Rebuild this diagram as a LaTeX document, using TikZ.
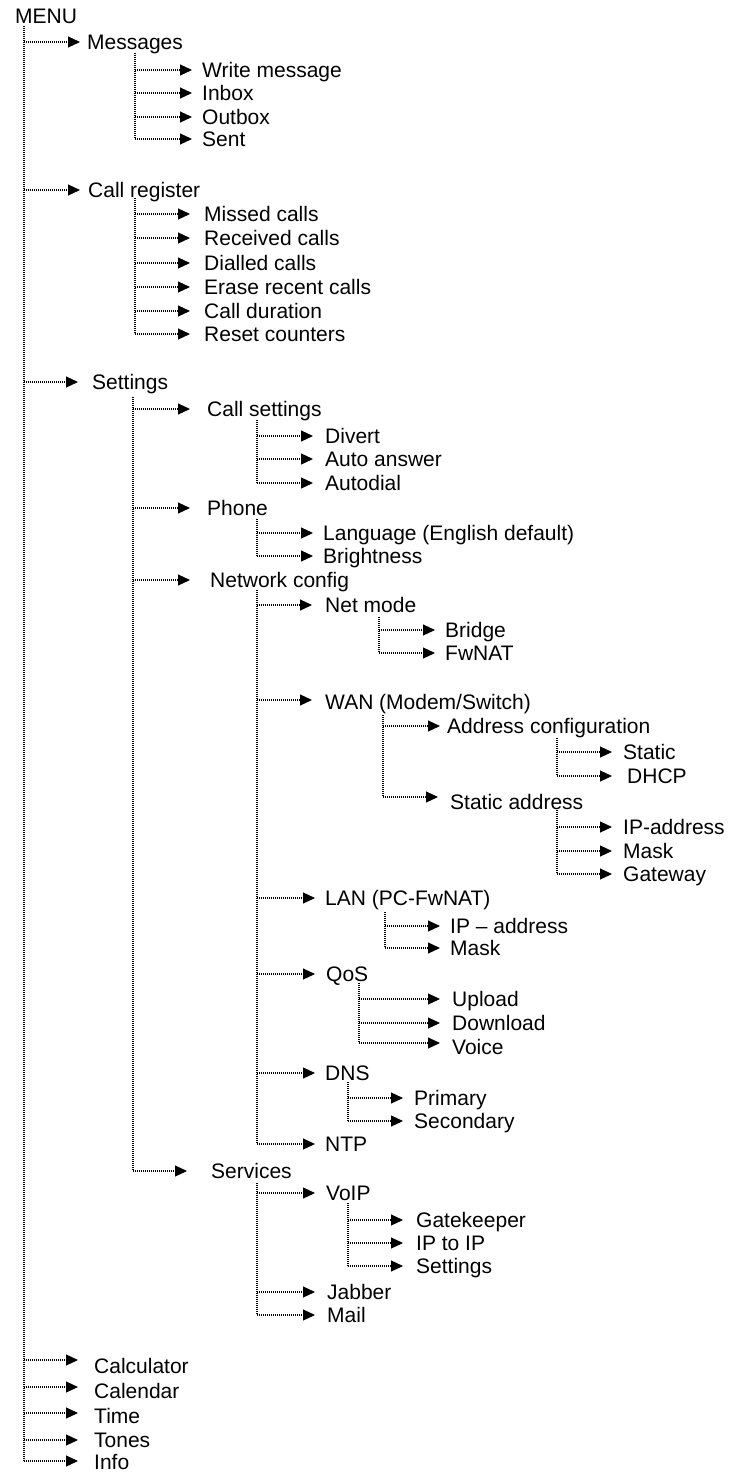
\documentclass[tikz,border=0pt]{standalone}
\usepackage{fontspec}
\setmainfont{Liberation Sans}
\usetikzlibrary{arrows.meta}

\newlength{\du}
\setlength{\du}{1pt}

\tikzset{
  entry/.style={anchor=west, inner sep=0pt, text height=15\du, text depth=0pt,
    font=\fontsize{21}{25}\selectfont},
  trunk/.style={line width=1.1\du, dash pattern=on 1\du off 1\du},
  link/.style={trunk, -{Triangle[length=12pt,width=11pt]}, shorten >=#1},
  link/.default=10\du
}

\begin{document}
\begin{tikzpicture}
\pgftransformxscale{1.000000}
\pgftransformyscale{-1.000000}
\definecolor{dialinecolor}{rgb}{0.000000, 0.000000, 0.000000}
\pgfsetstrokecolor{dialinecolor}
\useasboundingbox (0\du,0\du) rectangle (731\du,1473\du);
% menu entries
\node[entry] (menu) at (15\du,16\du){MENU};
\node[entry] (msg) at (87\du,42\du){Messages};
\node[entry] (wmsg) at (202\du,70\du){Write message};
\node[entry] (inbox) at (202\du,93\du){Inbox};
\node[entry] (outbox) at (202\du,117\du){Outbox};
\node[entry] (sent) at (202\du,139\du){Sent};
\node[entry] (creg) at (88\du,190\du){Call register};
\node[entry] (missed) at (204\du,214\du){Missed calls};
\node[entry] (recv) at (204\du,238\du){Received calls};
\node[entry] (dialled) at (204\du,263\du){Dialled calls};
\node[entry] (erase) at (204\du,287\du){Erase recent calls};
\node[entry] (cdur) at (204\du,311\du){Call duration};
\node[entry] (reset) at (204\du,334\du){Reset counters};
\node[entry] (sett) at (92\du,382\du){Settings};
\node[entry] (csett) at (207\du,409\du){Call settings};
\node[entry] (divert) at (325\du,436\du){Divert};
\node[entry] (autoans) at (325\du,459\du){Auto answer};
\node[entry] (autodial) at (325\du,483\du){Autodial};
\node[entry] (phone) at (207\du,508\du){Phone};
\node[entry] (lang) at (323\du,533\du){Language (English default)};
\node[entry] (bright) at (323\du,556\du){Brightness};
\node[entry] (netcfg) at (210\du,580\du){Network config};
\node[entry] (netmode) at (325\du,605\du){Net mode};
\node[entry] (bridge) at (445\du,630\du){Bridge};
\node[entry] (fwnat) at (445\du,653\du){FwNAT};
\node[entry, text height=19\du] (wan) at (325\du,700\du){WAN (Modem/Switch)};
\node[entry] (addrcfg) at (447\du,726\du){Address configuration};
\node[entry] (static) at (623\du,752\du){Static};
\node[entry] (dhcp) at (627\du,776\du){DHCP};
\node[entry, text height=25\du] (staddr) at (450\du,797\du){Static address};
\node[entry] (wanip) at (623\du,827\du){IP-address};
\node[entry] (wanmask) at (623\du,851\du){Mask};
\node[entry] (gateway) at (623\du,874\du){Gateway};
\node[entry] (lan) at (325\du,898\du){LAN (PC-FwNAT)};
\node[entry] (lanip) at (450\du,926\du){IP \textendash\ address};
\node[entry] (lanmask) at (450\du,948\du){Mask};
\node[entry] (qos) at (326\du,974\du){QoS};
\node[entry] (upload) at (452\du,999\du){Upload};
\node[entry] (download) at (452\du,1023\du){Download};
\node[entry, text height=23\du] (voice) at (452\du,1043\du){Voice};
\node[entry] (dns) at (325\du,1073\du){DNS};
\node[entry] (primary) at (414\du,1098\du){Primary};
\node[entry] (secondary) at (414\du,1121\du){Secondary};
\node[entry] (ntp) at (325\du,1144\du){NTP};
\node[entry] (serv) at (211\du,1171\du){Services};
\node[entry] (voip) at (326\du,1193\du){VoIP};
\node[entry] (gatekpr) at (416\du,1220\du){Gatekeeper};
\node[entry] (iptoip) at (416\du,1243\du){IP to IP};
\node[entry] (voipset) at (416\du,1266\du){Settings};
\node[entry] (jabber) at (327\du,1292\du){Jabber};
\node[entry] (mail) at (327\du,1315\du){Mail};
\node[entry, text height=27\du] (calc) at (94\du,1360\du){Calculator};
\node[entry, text height=23\du] (calend) at (94\du,1387\du){Calendar};
\node[entry, text height=21\du] (time) at (94\du,1413\du){Time};
\node[entry] (tones) at (94\du,1440\du){Tones};
\node[entry, text height=17\du] (info) at (94\du,1461\du){Info};
% trunk tops
\coordinate (menuT) at (24\du,26\du);
\coordinate (msgT) at (135\du,53\du);
\coordinate (cregT) at (135\du,198\du);
\coordinate (settT) at (133\du,397\du);
\coordinate (csettT) at (257\du,420\du);
\coordinate (phoneT) at (257\du,519\du);
\coordinate (netT) at (257\du,590\du);
\coordinate (nmodeT) at (379\du,617\du);
\coordinate (wanT) at (383\du,715\du);
\coordinate (addrT) at (557\du,738\du);
\coordinate (staddrT) at (557\du,810\du);
\coordinate (lanT) at (385\du,912\du);
\coordinate (qosT) at (359\du,983\du);
\coordinate (dnsT) at (348\du,1082\du);
\coordinate (servT) at (257\du,1183\du);
\coordinate (voipT) at (348\du,1203\du);
% MENU
\draw[trunk] (menuT) -- (menuT |- info.west);
\draw[link=7\du] (menuT |- msg.west) -- (msg.west);
\draw[link=8\du] (menuT |- creg.west) -- (creg.west);
\draw[link=14\du] (menuT |- sett.west) -- (sett.west);
\draw[link=16\du] (menuT |- calc.west) -- (calc.west);
\draw[link=16\du] (menuT |- calend.west) -- (calend.west);
\draw[link=16\du] (menuT |- time.west) -- (time.west);
\draw[link=16\du] (menuT |- tones.west) -- (tones.west);
\draw[link=16\du] (menuT |- info.west) -- (info.west);
% Messages
\draw[trunk] (msgT) -- (msgT |- sent.west);
\draw[link] (msgT |- wmsg.west) -- (wmsg.west);
\draw[link] (msgT |- inbox.west) -- (inbox.west);
\draw[link] (msgT |- outbox.west) -- (outbox.west);
\draw[link] (msgT |- sent.west) -- (sent.west);
% Call register
\draw[trunk] (cregT) -- (cregT |- reset.west);
\draw[link=14\du] (cregT |- missed.west) -- (missed.west);
\draw[link=14\du] (cregT |- recv.west) -- (recv.west);
\draw[link=14\du] (cregT |- dialled.west) -- (dialled.west);
\draw[link=14\du] (cregT |- erase.west) -- (erase.west);
\draw[link=14\du] (cregT |- cdur.west) -- (cdur.west);
\draw[link=14\du] (cregT |- reset.west) -- (reset.west);
% Settings
\draw[trunk] (settT) -- (settT |- serv.west);
\draw[link=17\du] (settT |- csett.west) -- (csett.west);
\draw[link=17\du] (settT |- phone.west) -- (phone.west);
\draw[link=20\du] (settT |- netcfg.west) -- (netcfg.west);
\draw[link=24\du] (settT |- serv.west) -- (serv.west);
% Call settings
\draw[trunk] (csettT) -- (csettT |- autodial.west);
\draw[link=12\du] (csettT |- divert.west) -- (divert.west);
\draw[link=12\du] (csettT |- autoans.west) -- (autoans.west);
\draw[link=12\du] (csettT |- autodial.west) -- (autodial.west);
% Phone
\draw[trunk] (phoneT) -- (phoneT |- bright.west);
\draw[link] (phoneT |- lang.west) -- (lang.west);
\draw[link] (phoneT |- bright.west) -- (bright.west);
% Network config
\draw[trunk] (netT) -- (netT |- ntp.west);
\draw[link=13\du] (netT |- netmode.west) -- (netmode.west);
\draw[link=13\du] (netT |- wan.west) -- (wan.west);
\draw[link=10\du] (netT |- lan.west) -- (lan.west);
\draw[link=11\du] (netT |- qos.west) -- (qos.west);
\draw[link=10\du] (netT |- dns.west) -- (dns.west);
\draw[link=10\du] (netT |- ntp.west) -- (ntp.west);
\draw[trunk] (nmodeT) -- (nmodeT |- fwnat.west);
\draw[link] (nmodeT |- bridge.west) -- (bridge.west);
\draw[link] (nmodeT |- fwnat.west) -- (fwnat.west);
\draw[trunk] (wanT) -- (wanT |- staddr.west);
\draw[link=7\du] (wanT |- addrcfg.west) -- (addrcfg.west);
\draw[link=12\du] (wanT |- staddr.west) -- (staddr.west);
\draw[trunk] (addrT) -- (addrT |- dhcp.west);
\draw[link=11\du] (addrT |- static.west) -- (static.west);
\draw[link=15\du] (addrT |- dhcp.west) -- (dhcp.west);
\draw[trunk] (staddrT) -- (staddrT |- gateway.west);
\draw[link=11\du] (staddrT |- wanip.west) -- (wanip.west);
\draw[link=11\du] (staddrT |- wanmask.west) -- (wanmask.west);
\draw[link=11\du] (staddrT |- gateway.west) -- (gateway.west);
\draw[trunk] (lanT) -- (lanT |- lanmask.west);
\draw[link] (lanT |- lanip.west) -- (lanip.west);
\draw[link] (lanT |- lanmask.west) -- (lanmask.west);
\draw[trunk] (qosT) -- (qosT |- voice.west);
\draw[link=12\du] (qosT |- upload.west) -- (upload.west);
\draw[link=12\du] (qosT |- download.west) -- (download.west);
\draw[link=12\du] (qosT |- voice.west) -- (voice.west);
\draw[trunk] (dnsT) -- (dnsT |- secondary.west);
\draw[link=11\du] (dnsT |- primary.west) -- (primary.west);
\draw[link=11\du] (dnsT |- secondary.west) -- (secondary.west);
% Services
\draw[trunk] (servT) -- (servT |- mail.west);
\draw[link=11\du] (servT |- voip.west) -- (voip.west);
\draw[link=12\du] (servT |- jabber.west) -- (jabber.west);
\draw[link=12\du] (servT |- mail.west) -- (mail.west);
\draw[trunk] (voipT) -- (voipT |- voipset.west);
\draw[link=13\du] (voipT |- gatekpr.west) -- (gatekpr.west);
\draw[link=13\du] (voipT |- iptoip.west) -- (iptoip.west);
\draw[link=13\du] (voipT |- voipset.west) -- (voipset.west);
\end{tikzpicture}
\end{document}
